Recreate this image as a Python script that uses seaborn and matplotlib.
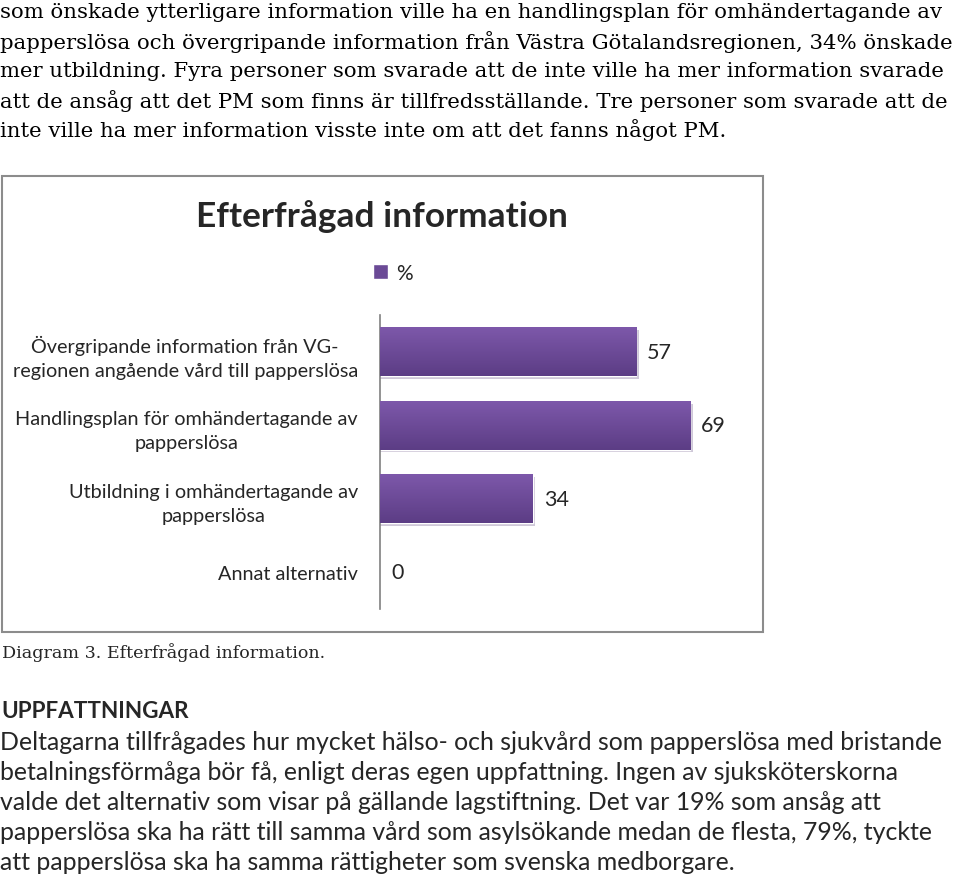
import numpy as np
import pandas as pd
import seaborn as sns
import matplotlib.pyplot as plt
from matplotlib.patches import Rectangle, Patch
from matplotlib.colors import LinearSegmentedColormap

# chart data
categories = ["Övergripande information från VG-\nregionen angående vård till papperslösa",
              "Handlingsplan för omhändertagande av\npapperslösa",
              "Utbildning i omhändertagande av\npapperslösa",
              "Annat alternativ"]
values = [57, 69, 34, 0]
series_name = "%"
chart_title = "Efterfrågad information"

top_lines = ["som önskade ytterligare information ville ha en handlingsplan för omhändertagande av",
             "papperslösa och övergripande information från Västra Götalandsregionen, 34% önskade",
             "mer utbildning. Fyra personer som svarade att de inte ville ha mer information svarade",
             "att de ansåg att det PM som finns är tillfredsställande. Tre personer som svarade att de",
             "inte ville ha mer information visste inte om att det fanns något PM."]
caption = "Diagram 3. Efterfrågad information."
heading = "UPPFATTNINGAR"
bottom_lines = ["Deltagarna tillfrågades hur mycket hälso- och sjukvård som papperslösa med bristande",
                "betalningsförmåga bör få, enligt deras egen uppfattning. Ingen av sjuksköterskorna",
                "valde det alternativ som visar på gällande lagstiftning. Det var 19% som ansåg att",
                "papperslösa ska ha rätt till samma vård som asylsökande medan de flesta, 79%, tyckte",
                "att papperslösa ska ha samma rättigheter som svenska medborgare."]

W, H = 960, 878
sns.set_theme(style="white")
plt.rcParams['font.family'] = ['Lato', 'DejaVu Sans']

fig = plt.figure(figsize=(W / 100, H / 100), dpi=100)

def fx(px):
    return px / W

def fy(py):
    return 1 - py / H

# text around the chart
for i, line in enumerate(top_lines):
    fig.text(fx(0), fy(13 + 29.3 * i), line, family='DejaVu Serif', fontsize=15.3,
             va='center', ha='left', color='black')
fig.text(fx(2), fy(653), caption, family='DejaVu Serif', fontsize=12.6, va='center', ha='left')
fig.text(fx(1), fy(712), heading, fontsize=16.2, fontweight='bold', va='center', ha='left')
for i, line in enumerate(bottom_lines):
    fig.text(fx(0), fy(743 + 30 * i), line, fontsize=17.9, va='center', ha='left')

# chart frame
fig.patches.append(Rectangle((fx(2), fy(633)), fx(761), (633 - 177) / H, transform=fig.transFigure,
                             fill=False, edgecolor='#8c8c8c', linewidth=1.5))
fig.text(fx(382), fy(217), chart_title, fontsize=25.4, fontweight='bold', ha='center', va='center')

df = pd.DataFrame({"category": categories, "value": values})
ax = fig.add_axes([fx(380), fy(610), fx(762 - 380), (610 - 316) / H])
sns.barplot(data=df, y="category", x="value", orient="h", color="#6b4a96", width=0.66, ax=ax)

purple = LinearSegmentedColormap.from_list("purp", ["#7d58aa", "#5c3d85"])
grad = np.linspace(0, 1, 64).reshape(-1, 1)
for p in ax.patches:
    if p.get_width() <= 0:
        continue
    x0, y0 = p.get_x(), p.get_y()
    w, h = p.get_width(), p.get_height()
    # soft shadow
    ax.add_patch(Rectangle((x0, y0 + 0.04), w + 0.6, h, color='#cfc8d8', zorder=1, linewidth=0))
    im = ax.imshow(grad, cmap=purple, aspect='auto', extent=(x0, x0 + w, y0 + h, y0), zorder=3)
    im.set_clip_path(p)
    p.set_zorder(2)

ax.bar_label(ax.containers[0], labels=[str(v) for v in values], padding=8, fontsize=15.5)
ax.set_xlim(0, 85)
ax.set_ylim(3.5, -0.5)
ax.set_xlabel("")
ax.set_ylabel("")
ax.set_xticks([])
ax.tick_params(axis='y', length=0, pad=16, labelsize=14.3)
for lbl in ax.get_yticklabels():
    lbl.set_multialignment('center')
    lbl.set_linespacing(1.5)
for s in ['top', 'right', 'bottom']:
    ax.spines[s].set_visible(False)
ax.spines['left'].set_color('#808080')
ax.spines['left'].set_linewidth(1.2)

fig.legend(handles=[Patch(facecolor='#6b4a96')], labels=[series_name], loc='center left',
           bbox_to_anchor=(fx(354), fy(274)), frameon=False, handlelength=0.75, handleheight=0.75,
           handletextpad=0.35, fontsize=15)

fig.savefig("out.png", dpi=100)
